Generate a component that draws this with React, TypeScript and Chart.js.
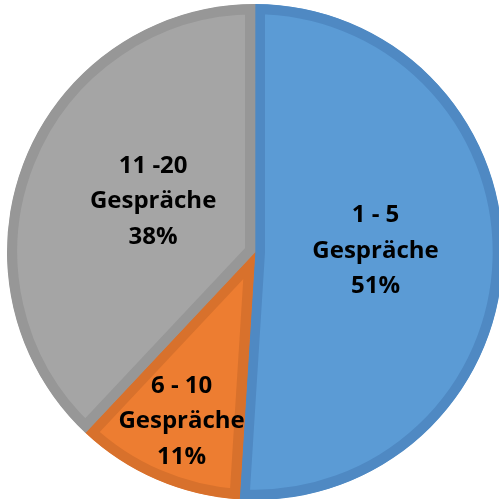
import React, { useEffect, useRef } from "react";
import { Chart, registerables } from "chart.js";

Chart.register(...registerables);

const categories = ["1 - 5", "6 - 10", "11 -20"];
const labelWord = "Gespräche";
const values = [51, 11, 38];
const percentLabels = ["51%", "11%", "38%"];

const fillColors = ["#5b9bd5", "#ed7d31", "#a5a5a5"];
const borderColors = ["#4f89c3", "#d8712c", "#979797"];
// label placement: fraction of radius, angular offset in degrees
const labelRadiusFrac = [0.486, 0.745, 0.459];
const labelAngleOffset = [-2.3, 0, 4.9];

const labelPlugin = {
  id: "sliceLabels",
  afterDatasetsDraw(chart: any) {
    const ctx = chart.ctx;
    const meta = chart.getDatasetMeta(0);
    ctx.save();
    ctx.fillStyle = "#000000";
    ctx.font = "bold 24px 'Open Sans'";
    ctx.textAlign = "center";
    ctx.textBaseline = "middle";
    meta.data.forEach((arc: any, i: number) => {
      const p = arc.getProps(["x", "y", "startAngle", "endAngle", "outerRadius"], true);
      const mid = (p.startAngle + p.endAngle) / 2 + (labelAngleOffset[i] * Math.PI) / 180;
      const r = p.outerRadius * labelRadiusFrac[i];
      const cx = p.x + Math.cos(mid) * r;
      const cy = p.y + Math.sin(mid) * r;
      const lines = [categories[i], labelWord, percentLabels[i]];
      const lh = 35.5;
      lines.forEach((t, k) => {
        ctx.fillText(t, cx, cy + (k - 1) * lh);
      });
    });
    ctx.restore();
  },
};

export default function App() {
  const ref = useRef<HTMLCanvasElement>(null);
  useEffect(() => {
    if (!ref.current) return;
    const chart = new Chart(ref.current, {
      type: "pie",
      data: {
        labels: categories,
        datasets: [
          {
            data: values,
            backgroundColor: fillColors,
            borderColor: borderColors,
            borderWidth: 10,
            borderAlign: "inner",
          },
        ],
      },
      options: {
        responsive: false,
        animation: false,
        layout: { padding: { left: 7, right: 17, top: 4, bottom: 20 } },
        plugins: {
          legend: { display: false },
          tooltip: { enabled: false },
        },
      },
      plugins: [labelPlugin],
    });
    return () => chart.destroy();
  }, []);
  return (
    <div
      style={{
        position: "fixed",
        left: 0,
        top: 0,
        width: 499,
        height: 499,
        overflow: "hidden",
        background: "#ffffff",
      }}
    >
      <canvas ref={ref} width={520} height={520} style={{ display: "block" }} />
    </div>
  );
}
